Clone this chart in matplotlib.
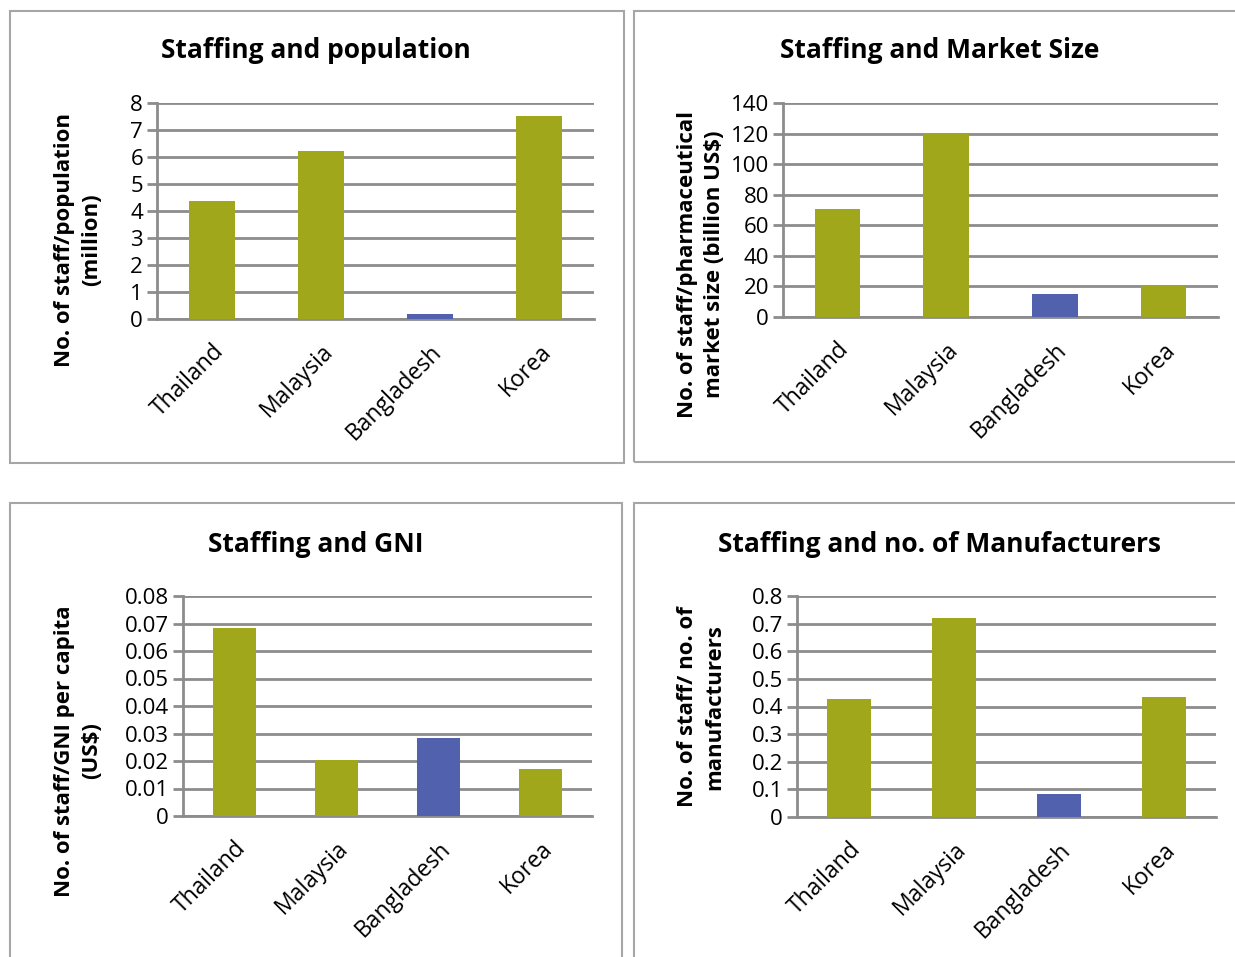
import matplotlib.pyplot as plt
from matplotlib.patches import Rectangle

plt.rcParams['font.family'] = ['Open Sans', 'DejaVu Sans']

countries = ['Thailand', 'Malaysia', 'Bangladesh', 'Korea']
per_population = [4.37, 6.22, 0.19, 7.52]
per_market = [70.6, 120.3, 15.0, 20.9]
per_gni = [0.0684, 0.0204, 0.0284, 0.0171]
per_manufacturer = [0.427, 0.721, 0.083, 0.435]

olive = '#A0A71B'
blue = '#5161AD'
bar_colors = [olive, olive, blue, olive]
grid_col = '#8C8C8C'

W, H = 1235, 957
fig = plt.figure(figsize=(W / 100, H / 100), dpi=100)


def px_rect(x0, y0, x1, y1):
    return [x0 / W, 1 - y1 / H, (x1 - x0) / W, (y1 - y0) / H]


# panel frames
for x0, y0, x1, y1 in [(10, 11, 624, 463), (634, 11, 1240, 462),
                       (10, 503, 622, 970), (634, 503, 1240, 970)]:
    fig.patches.append(Rectangle((x0 / W, 1 - y1 / H), (x1 - x0) / W, (y1 - y0) / H,
                                 transform=fig.transFigure, fill=False,
                                 edgecolor='#A6A6A6', linewidth=1.5))

# values, axes box, title, y label, y max, y step, integer ticks, title centre, y label centre
panels = [
    (per_population, px_rect(157, 103, 594, 319), 'Staffing and population',
     'No. of staff/population\n(million)', 8, 1, True, (316, 51), (78, 240)),
    (per_market, px_rect(783, 103, 1218, 317), 'Staffing and Market Size',
     'No. of staff/pharmaceutical\nmarket size (billion US$)', 140, 20, True, (940, 51), (701, 264)),
    (per_gni, px_rect(183, 596, 592, 816), 'Staffing and GNI',
     'No. of staff/GNI per capita\n(US$)', 0.08, 0.01, False, (316, 544), (78, 751)),
    (per_manufacturer, px_rect(797, 596, 1216, 817), 'Staffing and no. of Manufacturers',
     'No. of staff/ no. of\nmanufacturers', 0.8, 0.1, False, (940, 544), (701, 707)),
]

for vals, rect, title, ylabel, ymax, step, whole, tpos, lpos in panels:
    ax = fig.add_axes(rect)
    ax.bar(range(len(countries)), vals, width=0.42, color=bar_colors, zorder=3)
    ax.set_xlim(-0.5, len(countries) - 0.5)
    ax.set_ylim(0, ymax)
    n = int(round(ymax / step))
    ticks = [i * step for i in range(n + 1)]
    ax.set_yticks(ticks)
    if whole:
        labels = ['{:.0f}'.format(t) for t in ticks]
    else:
        labels = ['0'] + ['{:g}'.format(round(t, 3)) for t in ticks[1:]]
    ax.set_yticklabels(labels, fontsize=16)
    ax.yaxis.grid(True, color=grid_col, linewidth=2, zorder=0)
    ax.set_xticks(range(len(countries)))
    ax.set_xticklabels(countries, rotation=45, ha='right', rotation_mode='anchor', fontsize=16.5)
    ax.tick_params(axis='x', length=0, pad=15)
    ax.tick_params(axis='y', length=7, width=2, color=grid_col, pad=3)
    for s in ['top', 'right']:
        ax.spines[s].set_visible(False)
    for s in ['left', 'bottom']:
        ax.spines[s].set_color(grid_col)
        ax.spines[s].set_linewidth(2)
    ax.set_axisbelow(True)
    fig.text(tpos[0] / W, 1 - tpos[1] / H, title, ha='center', va='center',
             fontsize=19, fontweight='bold')
    fig.text(lpos[0] / W, 1 - lpos[1] / H, ylabel, rotation=90,
             ha='center', va='center', fontsize=16, fontweight='bold',
             multialignment='center', linespacing=1.4)

fig.savefig('out.png', dpi=100)
